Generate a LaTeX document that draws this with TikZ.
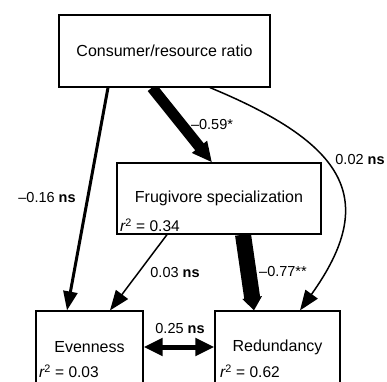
\documentclass[tikz,border=0pt]{standalone}
\usepackage{fontspec}
\setmainfont{Liberation Sans}
\usetikzlibrary{arrows.meta}
\begin{document}
\begin{tikzpicture}[x=1pt,y=-1pt,
  box/.style={draw, line width=1.2pt, rectangle, inner sep=0pt, font=\fontsize{16}{19}\selectfont},
  lab/.style={inner sep=0pt, font=\fontsize{14.5}{17}\selectfont},
  rsq/.style={inner sep=0pt, anchor=west, font=\fontsize{15.5}{18}\selectfont},
  thin/.style={line width=1.5pt, -{Triangle[length=20pt,width=15pt]}},
]
\useasboundingbox (0,0) rectangle (387,381);
\node[box, minimum width=211pt, minimum height=72pt] (cons) at (164.5,51) {Consumer/resource ratio};
\node[box, minimum width=204pt, minimum height=71pt] (frug) at (219,198.5) {Frugivore specialization};
\node[box, minimum width=107pt, minimum height=72pt] (even) at (89.5,347) {Evenness};
\node[box, minimum width=125pt, minimum height=72pt] (red) at (277.5,347) {Redundancy};
\node[rsq] (r1) at (120,225) {\textit{r}\kern-0.5pt\textsuperscript{2} = 0.34};
\node[rsq] (r2) at (39,371) {\textit{r}\kern-0.5pt\textsuperscript{2} = 0.03};
\node[rsq] (r3) at (220,371) {\textit{r}\kern-0.5pt\textsuperscript{2} = 0.62};

\draw[line width=3pt, -{Triangle[length=19pt,width=14pt]}] ([xshift=-56.5pt]cons.south) -- ([xshift=-22.5pt]even.north);
\begin{scope}
\clip (cons.south west) rectangle (387,381);
\draw[line width=11pt, -{Triangle[length=20pt,width=18pt]}] ([xshift=-12.5pt]cons.south) -- ([xshift=-7pt]frug.north);
\end{scope}
\draw[thin] ([xshift=45.5pt]cons.south) .. controls +(135,56) and +(80,-112) .. ([xshift=22.5pt]red.north);
\draw[thin] ([xshift=-52pt]frug.south) -- ([xshift=20.5pt]even.north);
\draw[line width=16pt, -{Triangle[length=13pt,width=19pt]}] ([xshift=24pt]frug.south) -- ([xshift=-23.5pt]red.north);
\draw[line width=5pt, {Triangle[length=19pt,width=17pt]}-{Triangle[length=19pt,width=17pt]}] (even.east) -- (red.west);

\node[lab] (l1) at (212,125) {–0.59*};
\node[lab] (l2) at (360,160) {0.02 \textbf{ns}};
\node[lab] (l3) at (47,198) {–0.16 \textbf{ns}};
\node[lab] (l4) at (175,272) {0.03 \textbf{ns}};
\node[lab] (l5) at (283,271) {–0.77**};
\node[lab] (l6) at (180,328) {0.25 \textbf{ns}};
\end{tikzpicture}
\end{document}
